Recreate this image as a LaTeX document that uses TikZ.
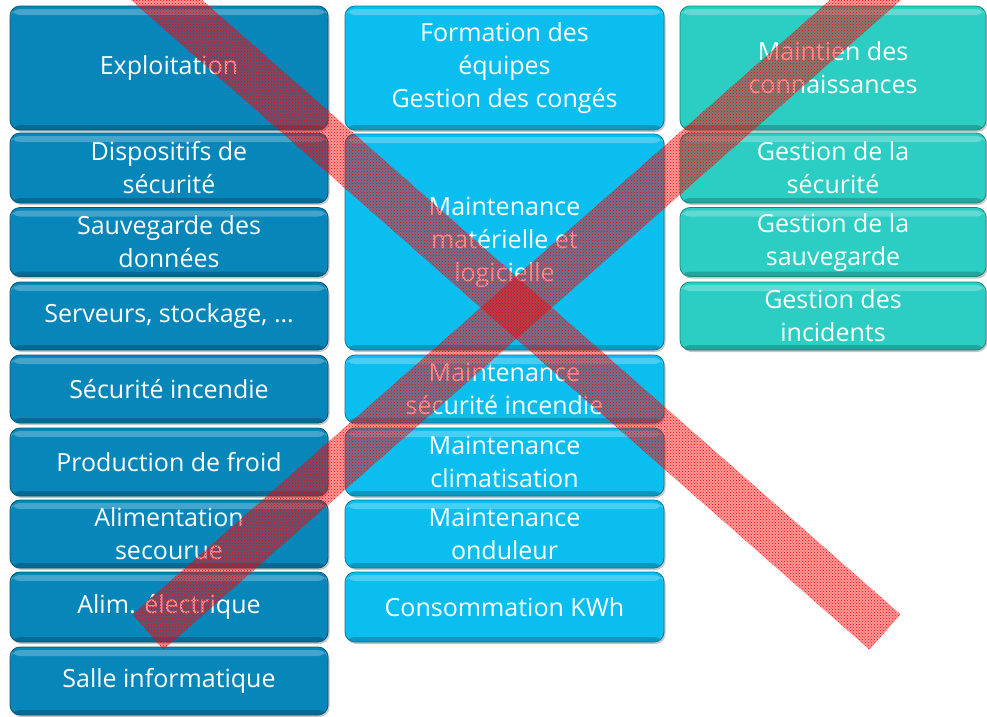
\documentclass[tikz,border=0pt]{standalone}
\usepackage{fontspec}
\setmainfont{Open Sans}
\usetikzlibrary{shadows,patterns,calc}
\definecolor{expblue}{HTML}{0786BA}
\definecolor{mntcyan}{HTML}{0BBEF0}
\definecolor{gstteal}{HTML}{2CCEC4}
\tikzstyle{xband}=[preaction={fill=red,fill opacity=0.4},pattern=crosshatch dots,pattern color=red]
\tikzset{
  brick/.style={
    rectangle,
    rounded corners=10pt,
    fill=#1,
    draw=#1!65!black,
    line width=0.8pt,
    text=white,
    align=center,
    inner sep=0pt,
    font=\fontsize{25}{33}\selectfont,
    drop shadow={opacity=0.45,shadow xshift=1.5pt,shadow yshift=-2pt},
    path picture={
      \fill[white,opacity=0.25] ([yshift=-3pt]path picture bounding box.north west) rectangle ([yshift=-9pt]path picture bounding box.north east);
      \fill[black,opacity=0.2] ([yshift=5pt]path picture bounding box.south west) rectangle (path picture bounding box.south east);
    },
  },
  exploit/.style={brick=expblue,minimum width=318pt,minimum height=#1},
  maint/.style={brick=mntcyan,minimum width=319pt,minimum height=#1},
  gest/.style={brick=gstteal,minimum width=306pt,minimum height=#1},
}

\begin{document}
\begin{tikzpicture}[x=1pt,y=-1pt]
    \clip (0,0) rectangle (987,716);

    % exploitation
    \node [exploit=124pt] (expl) at (169,68) {Exploitation};
    \node [exploit=70pt] (dispo) at (169,168) {Dispositifs de\\sécurité};
    \node [exploit=69pt] (sauv) at (169,242) {Sauvegarde des\\données};
    \node [exploit=68pt] (serv) at (169,316) {Serveurs, stockage, …};
    \node [exploit=68pt] (incend) at (169,389) {Sécurité incendie};
    \node [exploit=68pt] (froid) at (169,462) {Production de froid};
    \node [exploit=68pt] (secour) at (169,534) {Alimentation\\secourue};
    \node [exploit=70pt] (alim) at (169,607) {Alim. électrique};
    \node [exploit=68pt] (salle) at (169,681) {Salle informatique};

    % maintenance
    \node [maint=124pt] (form) at (504.5,68) {Formation des\\équipes\\Gestion des congés};
    \node [maint=216pt] (mmat) at (504.5,242) {Maintenance\\matérielle et\\logicielle};
    \node [maint=68pt] (msec) at (504.5,389) {Maintenance\\sécurité incendie};
    \node [maint=68pt] (mclim) at (504.5,462) {Maintenance\\climatisation};
    \node [maint=68pt] (mond) at (504.5,534) {Maintenance\\onduleur};
    \node [maint=70pt] (conso) at (504.5,607) {Consommation KWh};

    % gestion
    \node [gest=124pt] (conn) at (833,68) {Maintien des\\connaissances};
    \node [gest=70pt] (gsec) at (833,168) {Gestion de la\\sécurité};
    \node [gest=69pt] (gsauv) at (833,242) {Gestion de la\\sauvegarde};
    \node [gest=68pt] (ginc) at (833,316) {Gestion des\\incidents};

    % the cross
    \coordinate (xa) at (137,-26);
    \coordinate (xb) at (885,632);
    \coordinate (xc) at (148,632);
    \coordinate (xd) at (895,-26);
    \fill [xband] ($(xa)!23.5pt!90:(xb)$) -- ($(xa)!23.5pt!-90:(xb)$) -- ($(xb)!23.5pt!90:(xa)$) -- ($(xb)!23.5pt!-90:(xa)$) -- cycle;
    \fill [xband] ($(xc)!23.5pt!90:(xd)$) -- ($(xc)!23.5pt!-90:(xd)$) -- ($(xd)!23.5pt!90:(xc)$) -- ($(xd)!23.5pt!-90:(xc)$) -- cycle;
\end{tikzpicture}
\end{document}
